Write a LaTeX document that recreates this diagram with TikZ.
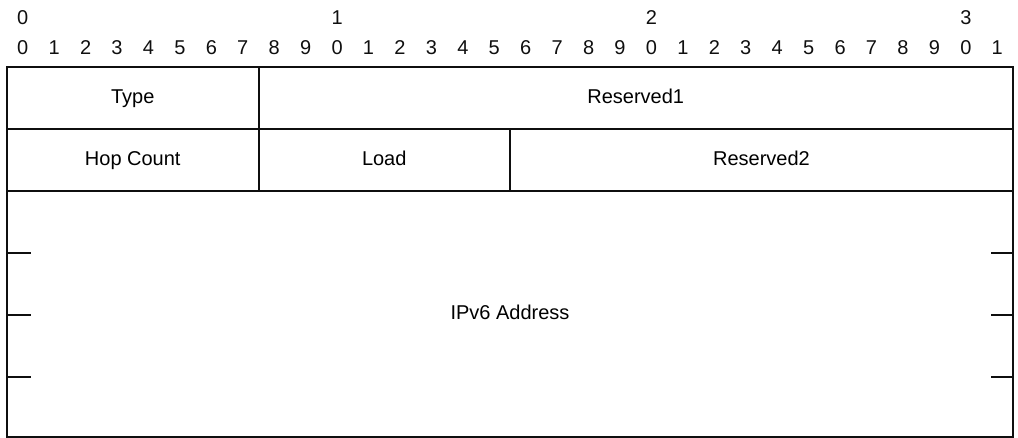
\documentclass[tikz,border=0pt]{standalone}
\usepackage{fontspec}
\setmainfont{Liberation Sans}
\usetikzlibrary{positioning,calc}
\definecolor{ink}{RGB}{15,15,15}

\begin{document}
\begin{tikzpicture}[x=1pt, y=-1pt,
    field/.style={draw=ink, line width=2pt, font=\fontsize{20}{24}\selectfont, text height=14.5pt, text depth=4pt, inner sep=0pt, outer sep=0pt, anchor=north west, minimum height=62pt},
    bitnum/.style={text=ink, font=\fontsize{20}{24}\selectfont, inner sep=0pt},
    tick/.style={draw=ink, line width=1.8pt}]
    \useasboundingbox (0,0) rectangle (1018,438);
    % bit numbers
    \foreach \i in {0,...,31} {
        \pgfmathtruncatemacro{\d}{mod(\i,10)}
        \node[bitnum] (b\i) at ({7+31.4375*(\i+0.5)}, 48) {\d};
    }
    \foreach \t in {0,1,2,3}
        \node[bitnum] (t\t) at ({7+31.4375*(10*\t+0.5)}, 18) {\t};
    % fields
    \node[field, minimum width=251.5pt] (type) at (7,67) {Type};
    \node[field, minimum width=754.5pt] (res1) at (type.north east) {Reserved1};
    \node[field, minimum width=251.5pt] (hop) at (type.south west) {Hop Count};
    \node[field, minimum width=251.5pt] (load) at (hop.north east) {Load};
    \node[field, minimum width=503pt] (res2) at (load.north east) {Reserved2};
    \node[field, minimum width=1006pt, minimum height=246pt] (addr) at (hop.south west) {IPv6 Address};
    \foreach \k in {1,2,3} {
        \draw[tick] ($(addr.north west)+(0,62*\k)$) -- ++(24,0);
        \draw[tick] ($(addr.north east)+(0,62*\k)$) -- ++(-22,0);
    }
\end{tikzpicture}
\end{document}
